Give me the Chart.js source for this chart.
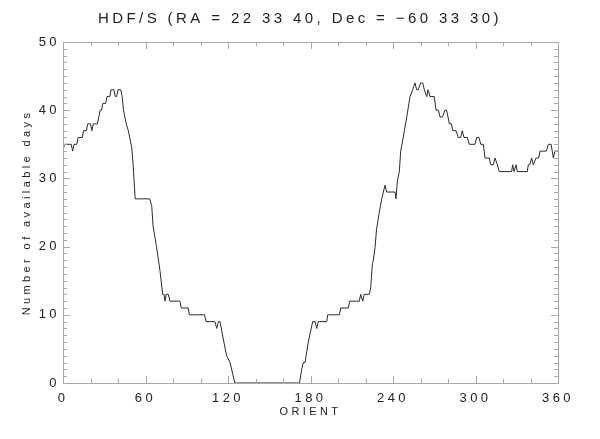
<!DOCTYPE html>
<html lang="en">
<head>
    <meta charset="UTF-8">
    <title>HDF/S available days vs ORIENT</title>
    <script src="https://cdnjs.cloudflare.com/ajax/libs/Chart.js/4.4.1/chart.umd.js"></script>
    <style>
        * {
            margin: 0;
            padding: 0;
        }
        body {
            background: white;
        }
    </style>
</head>
<body>
    <canvas id="orientChart" width="600" height="439"></canvas>

    <script>
        // Orientation angles (deg) and number of available days
        const orient = [
            0, 1, 6, 7, 8, 10, 11, 14, 15, 17, 18, 20, 21, 22, 25, 26, 27, 28, 29, 31,
            32, 34, 35, 37, 38, 39, 40, 42, 43, 44, 46, 47.5, 50, 51, 52.5, 63, 64.5, 65.5, 68, 70.5,
            72.5, 73.5, 74.2, 75, 76.6, 77.8, 85, 86, 91, 92, 103, 104, 110.5, 111.8, 113, 114.2, 117, 119, 121.5, 125,
            172, 173.6, 174.8, 176, 178.4, 181.6, 183.3, 184.5, 185.7, 191.8, 192.5, 201, 202, 207.5, 208.5, 215.5, 216.5, 218, 219, 222.8,
            223.8, 225, 225.7, 227, 228, 230, 231.8, 233, 234.2, 235.4, 241.5, 242.2, 243.1, 244.6, 245.6, 247, 248.7, 250.4, 252.4, 254.3,
            256, 257.2, 258.4, 260.1, 261.6, 262.8, 264.5, 265.5, 266.9, 270, 271.3, 273, 274.2, 276, 277.8, 279, 280, 281, 282.5, 283.4,
            285.8, 287.5, 289.2, 290.4, 291.6, 294, 295.5, 299.6, 300.9, 302.5, 303.8, 305.7, 306.9, 310, 311.1, 313, 314.2, 315.9, 317.3, 326.3,
            327, 328, 329.5, 330.4, 337.7, 338.4, 339.5, 340.8, 342, 344, 346, 346.9, 351.5, 353, 355, 356.6, 357.8, 360
        ];
        const days = [
            34, 35, 35, 34, 35, 35, 36, 36, 37, 37, 38, 38, 37, 38, 38, 39, 40, 40, 41, 41,
            42, 42, 43, 43, 42, 42, 43, 43, 42, 40, 38, 37, 34.5, 32, 27, 27, 26, 23, 20, 16.5,
            13, 13, 12, 13, 13, 12, 12, 11, 11, 10, 10, 9, 9, 8, 9, 9, 6, 4, 3, 0,
            0, 2, 3, 3, 6, 9, 9, 8, 9, 9, 10, 10, 11, 11, 12, 12, 13, 12, 13, 13,
            14, 17.5, 18, 20, 22.5, 25, 27, 28, 29, 28, 28, 27, 29.5, 31, 34, 35.5, 37.5, 39.5, 42, 43,
            44, 43, 43, 44, 44, 43, 42, 43, 42, 42, 40, 40, 39, 39, 40, 40, 39, 38, 38, 37,
            37, 36, 36, 37, 36, 36, 35, 35, 36, 36, 35, 35, 33, 33, 32, 32, 33, 32, 31, 31,
            32, 31, 32, 31, 31, 32, 32, 33, 32, 33, 33, 34, 34, 35, 35, 33, 34, 34
        ];
        const xTicks = [0, 60, 120, 180, 240, 300, 360];
        const yTicks = [0, 10, 20, 30, 40, 50];

        const fontFamily = '"Liberation Sans", Arial, sans-serif';
        const frameColor = '#a8a8a8';
        const textColor = '#222';

        // Hershey-like wide letter spacing for the canvas text
        const spacing = {
            id: 'spacing',
            beforeDraw(chart) { chart.ctx.letterSpacing = '3.4px'; },
            beforeDatasetsDraw(chart) { chart.ctx.letterSpacing = '1.5px'; },
            afterDraw(chart) { chart.ctx.letterSpacing = '0px'; }
        };

        // Box frame with inward ticks on all four sides (IDL style)
        const frameTicks = {
            id: 'frameTicks',
            afterDatasetsDraw(chart) {
                const { ctx, chartArea: a, scales: { x, y } } = chart;
                ctx.save();
                ctx.strokeStyle = frameColor;
                ctx.lineWidth = 1;
                ctx.strokeRect(Math.round(a.left) + 0.5, Math.round(a.top) + 0.5,
                    Math.round(a.width), Math.round(a.height));
                ctx.beginPath();
                for (let v = 0; v <= 360; v += 20) {
                    const px = Math.round(x.getPixelForValue(v)) + 0.5;
                    const len = v % 60 === 0 ? 7 : 4;
                    ctx.moveTo(px, a.bottom); ctx.lineTo(px, a.bottom - len);
                    ctx.moveTo(px, a.top); ctx.lineTo(px, a.top + len);
                }
                for (let v = 0; v <= 50; v += 1) {
                    const py = Math.round(y.getPixelForValue(v)) + 0.5;
                    const len = v % 10 === 0 ? 7 : 4;
                    ctx.moveTo(a.left, py); ctx.lineTo(a.left + len, py);
                    ctx.moveTo(a.right, py); ctx.lineTo(a.right - len, py);
                }
                ctx.stroke();
                ctx.restore();
            }
        };

        new Chart(document.getElementById('orientChart'), {
            type: 'scatter',
            data: {
                datasets: [{
                    data: orient.map((o, i) => ({ x: o, y: days[i] })),
                    showLine: true,
                    borderColor: '#2a2a2a',
                    borderWidth: 1,
                    pointRadius: 0,
                    tension: 0
                }]
            },
            options: {
                responsive: false,
                animation: false,
                devicePixelRatio: 1,
                layout: { padding: 0 },
                plugins: {
                    legend: { display: false },
                    tooltip: { enabled: false },
                    title: {
                        display: true,
                        text: 'HDF/S (RA = 22 33 40, Dec = \u221260 33 30)',
                        color: textColor,
                        font: { family: fontFamily, size: 15, weight: 'normal' },
                        padding: { top: 10, bottom: 14 }
                    }
                },
                scales: {
                    x: {
                        type: 'linear',
                        min: 0,
                        max: 360,
                        z: 1,
                        afterFit(s) { s.height = 56; },
                        afterBuildTicks(s) { s.ticks = xTicks.map(v => ({ value: v })); },
                        grid: { display: false, drawTicks: false },
                        border: { display: false },
                        ticks: {
                            color: textColor,
                            padding: 8,
                            maxRotation: 0,
                            font: { family: fontFamily, size: 13 }
                        },
                        title: {
                            display: true,
                            text: 'ORIENT',
                            color: textColor,
                            font: { family: fontFamily, size: 11 },
                            padding: { top: 0, bottom: 20 }
                        }
                    },
                    y: {
                        min: 0,
                        max: 50,
                        z: 1,
                        afterFit(s) { s.width = 63; },
                        afterBuildTicks(s) { s.ticks = yTicks.map(v => ({ value: v })); },
                        grid: { display: false, drawTicks: false },
                        border: { display: false },
                        ticks: {
                            color: textColor,
                            padding: 3,
                            font: { family: fontFamily, size: 13 }
                        },
                        title: {
                            display: true,
                            text: 'Number of available days',
                            color: textColor,
                            font: { family: fontFamily, size: 11 },
                            padding: { top: 20, bottom: 0 }
                        }
                    },
                    y2: {
                        position: 'right',
                        min: 0,
                        max: 50,
                        afterFit(s) { s.width = 42; },
                        grid: { display: false, drawTicks: false },
                        border: { display: false },
                        ticks: { display: false }
                    }
                }
            },
            plugins: [spacing, frameTicks]
        });
    </script>
</body>
</html>
